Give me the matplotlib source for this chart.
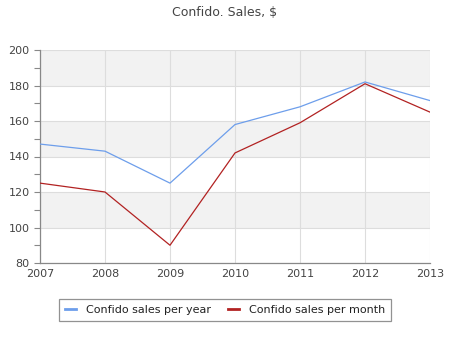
import matplotlib
matplotlib.use("Agg")
import matplotlib.pyplot as plt
from matplotlib.ticker import MultipleLocator

years = [2007, 2008, 2009, 2010, 2011, 2012, 2013]
per_year = [147, 143, 125, 158, 168, 182, 171.5]
per_month = [125, 120, 90, 142, 159, 181, 165]

fig = plt.figure(figsize=(4.5, 3.5), dpi=100)
ax = fig.add_axes([40 / 450, 87 / 350, 390 / 450, 213 / 350])

# alternating bands
for lo in range(100, 200, 40):
    ax.axhspan(lo, lo + 20, color="#f2f2f2", zorder=0, lw=0)

ax.plot(years, per_year, color="#6d9eeb", lw=0.9, label="Confido sales per year", zorder=3)
ax.plot(years, per_month, color="#b22222", lw=0.9, label="Confido sales per month", zorder=3)

ax.set_xlim(2007, 2013)
ax.set_ylim(80, 200)
ax.set_xticks(years)
ax.set_yticks(range(80, 201, 20))
ax.yaxis.set_minor_locator(MultipleLocator(10))
ax.grid(True, color="#dddddd", lw=0.8, zorder=1)
ax.set_axisbelow(True)

for s in ["top", "right"]:
    ax.spines[s].set_visible(False)
for s in ["left", "bottom"]:
    ax.spines[s].set_color("#888888")
    ax.spines[s].set_linewidth(0.9)
ax.tick_params(axis="y", which="both", colors="#888888", labelcolor="#444444", labelsize=8, length=4, width=0.8)
ax.tick_params(axis="x", length=0, labelcolor="#444444", labelsize=8, pad=4)

fig.text(0.5, 1 - 12 / 350, "Confido. Sales, $", ha="center", va="center", fontsize=9, color="#444444")

leg = fig.legend(loc="center", bbox_to_anchor=(225 / 450, 1 - 310 / 350), ncol=2, fontsize=8,
                 frameon=True, fancybox=False, handlelength=1.0, columnspacing=1.5,
                 handletextpad=0.9, borderpad=0.5)
leg.get_frame().set_edgecolor("#777777")
leg.get_frame().set_linewidth(0.9)
for t in leg.get_texts():
    t.set_color("#222222")
for h in leg.get_lines():
    h.set_linewidth(2)

fig.savefig("out.png", dpi=100)
